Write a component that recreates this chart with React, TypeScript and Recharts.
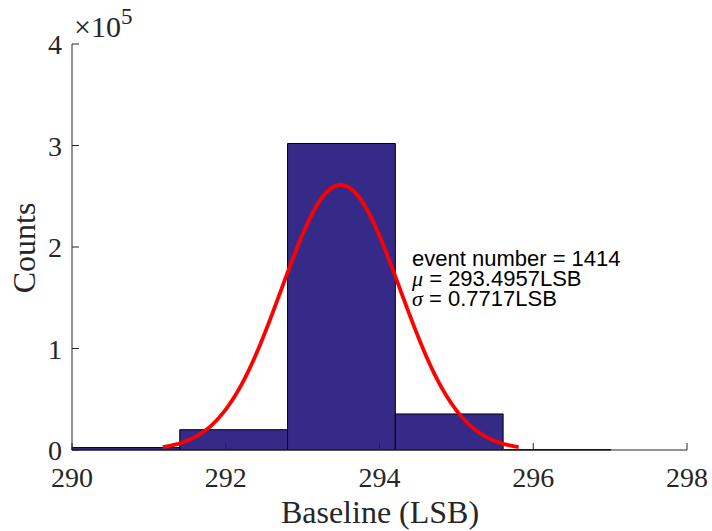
import React from 'react';
import { ComposedChart, XAxis, YAxis, Line, ReferenceArea } from 'recharts';

// Histogram of baseline samples (LSB): bin edges and counts per bin
const binEdges = [290.0, 291.402, 292.804, 294.206, 295.608, 297.01];
const binCounts = [2400, 20000, 302000, 35500, 500];

// Normal fit parameters
const eventNumber = 1414;
const fitMu = 293.4957;
const fitSigma = 0.7717;

const xTicks = [290, 292, 294, 296, 298];
const yTicks = [0, 100000, 200000, 300000, 400000];

const AXIS_COLOR = '#262626';
const BAR_COLOR = '#352A87';
const SERIF = '"Liberation Serif", "Times New Roman", serif';
const SANS = '"Liberation Sans", Arial, Helvetica, sans-serif';

// Fitted normal curve scaled to the histogram area, drawn over mu +/- 3 sigma
const binWidth = binEdges[1] - binEdges[0];
const totalCounts = binCounts.reduce((s, c) => s + c, 0);
const fitAmplitude = (totalCounts * binWidth) / (fitSigma * Math.sqrt(2 * Math.PI));
const FIT_STEPS = 80;
const fitCurve = Array.from({ length: FIT_STEPS + 1 }, (_, i) => {
  const x = fitMu - 3 * fitSigma + (6 * fitSigma * i) / FIT_STEPS;
  const z = (x - fitMu) / fitSigma;
  return { x, y: fitAmplitude * Math.exp(-0.5 * z * z) };
});

const bins = binCounts.map((count, i) => ({
  x1: binEdges[i],
  x2: binEdges[i + 1],
  count,
}));

const XTick = (props: any) => {
  const { x, y, payload } = props;
  return (
    <g>
      <line x1={x} y1={y} x2={x} y2={y - 7} stroke={AXIS_COLOR} strokeWidth={1} />
      <text
        x={x}
        y={y + 37}
        textAnchor="middle"
        style={{ fontFamily: SERIF, fontSize: 28 }}
        fill={AXIS_COLOR}
      >
        {payload.value}
      </text>
    </g>
  );
};

const YTick = (props: any) => {
  const { x, y, payload } = props;
  return (
    <g>
      <line x1={x} y1={y} x2={x + 7} y2={y} stroke={AXIS_COLOR} strokeWidth={1} />
      <text
        x={x - 10}
        y={y + 10}
        textAnchor="end"
        style={{ fontFamily: SERIF, fontSize: 28 }}
        fill={AXIS_COLOR}
      >
        {payload.value / 100000}
      </text>
    </g>
  );
};

export default function App() {
  return (
    <div style={{ position: 'absolute', left: 0, top: 0, width: 712, height: 531, background: '#fff' }}>
      <ComposedChart
        width={712}
        height={531}
        data={fitCurve}
        margin={{ top: 44, right: 25, bottom: 0, left: 0 }}
      >
        <XAxis
          type="number"
          dataKey="x"
          domain={[290, 298]}
          ticks={xTicks}
          allowDataOverflow
          height={81}
          tickSize={0}
          tickMargin={0}
          tickLine={false}
          axisLine={{ stroke: AXIS_COLOR, strokeWidth: 1 }}
          tick={<XTick />}
          interval={0}
        />
        <YAxis
          type="number"
          domain={[0, 400000]}
          ticks={yTicks}
          allowDataOverflow
          width={72}
          tickSize={0}
          tickMargin={0}
          tickLine={false}
          axisLine={{ stroke: AXIS_COLOR, strokeWidth: 1 }}
          tick={<YTick />}
          interval={0}
        />
        {bins.map((b, i) => (
          <ReferenceArea
            key={i}
            x1={b.x1}
            x2={b.x2}
            y1={0}
            y2={b.count}
            fill={BAR_COLOR}
            fillOpacity={1}
            stroke="#000"
            strokeWidth={1}
            ifOverflow="visible"
          />
        ))}
        <Line
          type="monotone"
          dataKey="y"
          stroke="#FF0000"
          strokeWidth={3.8}
          dot={false}
          activeDot={false}
          isAnimationActive={false}
        />
      </ComposedChart>
      <svg
        width={712}
        height={531}
        style={{ position: 'absolute', left: 0, top: 0, pointerEvents: 'none' }}
      >
        {/* exponent multiplier for the y axis */}
        <text x={74} y={37} style={{ fontFamily: SERIF, fontSize: 30 }} fill={AXIS_COLOR}>
          ×10
          <tspan style={{ fontSize: 23 }} dy={-13}>5</tspan>
        </text>
        {/* axis titles */}
        <text
          x={380}
          y={523}
          textAnchor="middle"
          style={{ fontFamily: SERIF, fontSize: 32 }}
          fill={AXIS_COLOR}
        >
          Baseline (LSB)
        </text>
        <text
          x={0}
          y={0}
          transform="translate(35 248) rotate(-90)"
          textAnchor="middle"
          style={{ fontFamily: SERIF, fontSize: 32 }}
          fill={AXIS_COLOR}
        >
          Counts
        </text>
        {/* fit annotation */}
        <g style={{ fontFamily: SANS, fontSize: 22 }} fill="#000">
          <text x={412} y={265.5}>event number = {eventNumber}</text>
          <text x={412} y={285.5}>
            <tspan style={{ fontFamily: SERIF, fontStyle: 'italic' }}>μ</tspan>
            <tspan> = {fitMu.toFixed(4)}LSB</tspan>
          </text>
          <text x={412} y={306}>
            <tspan style={{ fontFamily: SERIF, fontStyle: 'italic' }}>σ</tspan>
            <tspan> = {fitSigma.toFixed(4)}LSB</tspan>
          </text>
        </g>
      </svg>
    </div>
  );
}
